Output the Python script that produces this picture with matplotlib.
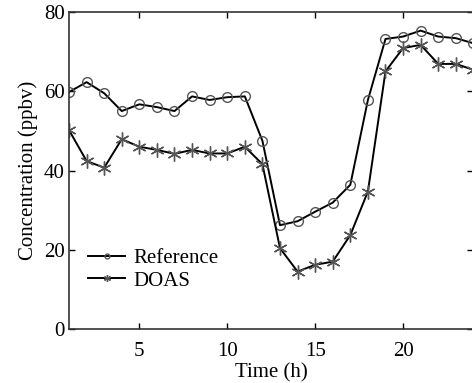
import numpy as np
import matplotlib.pyplot as plt

plt.rcParams['font.family'] = ['Liberation Serif', 'DejaVu Serif']

hours = list(range(1, 25))
reference = [59.8, 62.3, 59.5, 55.0, 56.7, 56.0, 55.0, 58.7, 57.8, 58.5, 58.7, 47.5,
             26.2, 27.2, 29.6, 31.9, 36.4, 57.8, 73.2, 73.8, 75.3, 73.8, 73.4, 72.1]
doas = [50.2, 42.4, 40.7, 47.9, 46.0, 45.2, 44.2, 45.2, 44.3, 44.3, 46.0, 41.6,
        20.4, 14.5, 16.2, 17.0, 23.7, 34.7, 65.0, 70.9, 71.7, 66.9, 66.9, 65.4]

fig = plt.figure(figsize=(4.72, 3.83), dpi=100)
ax = fig.add_axes([69/472, 54/383, 404.4/472, 317/383])

ax.plot(hours, reference, color='black', lw=1.4, marker='o', ms=7,
        mfc='none', mec='#555555', mew=1.0, label='Reference')
ax.plot(hours, doas, color='black', lw=1.4, marker=(6, 2, 0), ms=10,
        mec='#555555', mew=1.0, label='DOAS')

ax.set_xlim(1, 24)
ax.set_ylim(0, 80)
ax.set_xticks([5, 10, 15, 20])
ax.set_yticks([0, 20, 40, 60, 80])
ax.tick_params(direction='in', top=True, right=True, labelsize=15, length=4, width=1)
ax.tick_params(axis='x', pad=9)
ax.tick_params(axis='y', pad=3)
for s in ax.spines.values():
    s.set_linewidth(1.2)
    s.set_color('#333333')

ax.set_xlabel('Time (h)', fontsize=15, labelpad=2)
ax.set_ylabel('Concentration (ppbv)', fontsize=15, labelpad=4)

ax.legend(loc='upper left', bbox_to_anchor=(0.047, 0.254), frameon=False, fontsize=15,
          borderpad=0, borderaxespad=0, handlelength=1.78, handletextpad=0.38,
          labelspacing=0.15, markerscale=0.5)

fig.savefig('out.png', dpi=100)
